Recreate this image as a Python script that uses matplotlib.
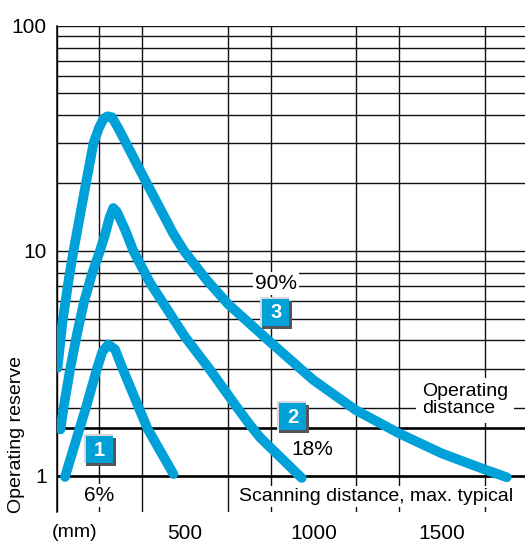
import matplotlib
matplotlib.use("Agg")
import matplotlib.pyplot as plt
from matplotlib.patches import Rectangle
from matplotlib.transforms import ScaledTranslation

# curve data: scanning distance (mm) vs operating reserve
dist_6 = [33, 89.5, 114, 157.6, 178, 201.5, 228, 257, 321, 354.5, 455]
reserve_6 = [0.99, 1.62, 2.0, 3.0, 3.55, 3.84, 3.65, 3.0, 2.0, 1.62, 1.02]

dist_18 = [15.6, 27.2, 52.5, 79.8, 107, 138, 169, 188.7, 206, 221, 235, 267, 299, 363.8, 500, 593, 701, 753,
           792, 954]
reserve_18 = [1.61, 2.0, 2.96, 4.28, 5.93, 7.9, 10, 11.78, 14.02, 15.5, 14.9, 12.4, 10, 7.21, 4.15, 3.01, 2.026,
              1.685, 1.483, 0.98]

dist_90 = [3.9, 23.3, 46.7, 66.1, 114.8, 144, 165.4, 182.9, 198.4, 216, 243.2, 270.4, 351, 453, 496, 584, 667,
           831, 999, 1165, 1331, 1499, 1665, 1752]
reserve_90 = [3.02, 4.84, 7.36, 10, 20.0, 30.1, 35.2, 38.6, 39.6, 39.2, 34.6, 30.1, 20.0, 12.0, 10.0, 7.43, 5.81,
              3.94, 2.67, 1.96, 1.55, 1.26, 1.07, 0.987]

x_tick_pos = [72, 500, 1000, 1500]
x_tick_labels = ["(mm)", "500", "1000", "1500"]
y_tick_pos = [1, 10, 100]
y_tick_labels = ["1", "10", "100"]
operating_distance_level = 1.63

BLUE = "#00a0d8"

plt.rcParams["font.family"] = ["Liberation Sans", "DejaVu Sans"]


def draw_badge(ax, x, y, label):
    """Draw a numbered blue square with a bevel, centred on a data point."""
    tr = ax.figure.dpi_scale_trans + ScaledTranslation(x, y, ax.transData)
    s = 0.27
    ax.add_patch(Rectangle((-s / 2 - 0.02, -s / 2 + 0.0), s + 0.02, s + 0.02,
                           transform=tr, fc="#d8d8d8", ec="none", zorder=6, clip_on=False))
    ax.add_patch(Rectangle((-s / 2 + 0.0, -s / 2 - 0.03), s + 0.03, s + 0.01,
                           transform=tr, fc="#555555", ec="none", zorder=6, clip_on=False))
    ax.add_patch(Rectangle((-s / 2, -s / 2), s, s,
                           transform=tr, fc=BLUE, ec="none", zorder=7, clip_on=False))
    ax.text(0, -0.005, label, transform=tr, color="white", fontsize=14.5, fontweight="bold",
            ha="center", va="center", zorder=8)


fig = plt.figure(figsize=(5.25, 5.52), dpi=100)
ax = fig.add_axes([56.5 / 525, 1 - 511.7 / 552, (525 - 56.5) / 525, 486 / 552])

ax.set_yscale("log")
ax.set_xlim(0, 1823)
ax.set_ylim(0.694, 100)

# grid
ax.set_xticks([k * 500 / 3 for k in range(11)], minor=True)
ax.set_yticks([v * m for m in (1, 10) for v in range(2, 10)], minor=True)
ax.set_yticks(y_tick_pos)
ax.set_yticklabels(y_tick_labels)
ax.set_xticks(x_tick_pos)
ax.set_xticklabels(x_tick_labels)
ax.yaxis.set_minor_formatter(plt.NullFormatter())
ax.xaxis.set_minor_formatter(plt.NullFormatter())
ax.grid(which="minor", axis="x", color="#111111", lw=1.0)
ax.grid(which="both", axis="y", color="#111111", lw=1.0)
ax.tick_params(which="both", length=0)
ax.tick_params(axis="y", labelsize=15, pad=7)
ax.tick_params(axis="x", labelsize=15, pad=9)
for lab in ax.get_xticklabels():
    if lab.get_text() == "(mm)":
        lab.set_fontsize(14)
for side in ("top", "right", "bottom"):
    ax.spines[side].set_visible(False)
ax.spines["left"].set_linewidth(1.1)
ax.set_axisbelow(True)

ax.axhline(1, color="black", lw=1.9, zorder=1.5)
ax.axhline(operating_distance_level, color="black", lw=1.9, zorder=1.5)

for xs, ys in ((dist_6, reserve_6), (dist_18, reserve_18), (dist_90, reserve_90)):
    ax.plot(xs, ys, color=BLUE, lw=7, solid_capstyle="round", solid_joinstyle="round", zorder=4)

white = dict(boxstyle="square,pad=0.1", fc="white", ec="none")
ax.text(1775, 0.777, "Scanning distance, max. typical", fontsize=14, ha="right", va="baseline",
        bbox=white, zorder=3)
ax.text(165, 0.777, "6%", fontsize=15, ha="center", va="baseline", bbox=white, zorder=3)
ax.text(994, 1.24, "18%", fontsize=15, ha="center", va="baseline", bbox=white, zorder=3)
ax.text(854, 6.76, "90%", fontsize=15, ha="center", va="baseline", bbox=white, zorder=3)
ax.text(1422, 2.165, "Operating\ndistance", fontsize=14, ha="left", va="center", linespacing=1.0,
        bbox=dict(boxstyle="square,pad=0.3", fc="white", ec="none"), zorder=3)

draw_badge(ax, 167, 1.305, "1")
draw_badge(ax, 918, 1.83, "2")
draw_badge(ax, 853, 5.33, "3")

ax.set_ylabel("Operating reserve", fontsize=14)
ax.yaxis.set_label_coords(-0.067, 0.158)

fig.savefig("out.png", dpi=100)
